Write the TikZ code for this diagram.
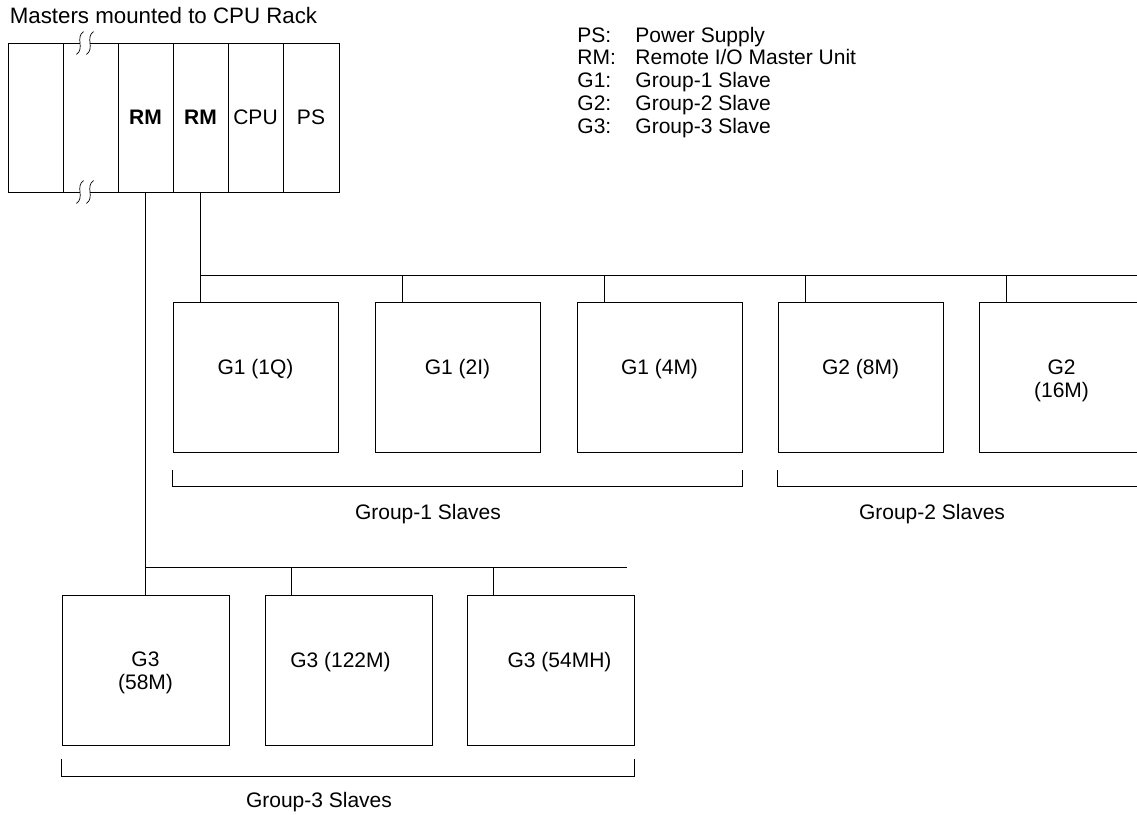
\documentclass[tikz,border=0pt]{standalone}
\usepackage{fontspec}
\setmainfont{Liberation Sans}

\tikzset{
    slot/.style={draw, minimum width=55pt, minimum height=149pt},
    slave/.style={draw, minimum width=165pt, minimum height=150pt},
    slavetext/.style={anchor=base, align=center},
    breakmark/.style={line width=0.7pt},
}

\begin{document}
\begin{tikzpicture}[x=1pt, y=-1pt, line width=0.9pt, inner sep=0pt,
        font=\fontsize{21pt}{23pt}\selectfont]
                \useasboundingbox (0,0) rectangle (1137,814);
                \clip (0,0) rectangle (1137,814);

                \node[anchor=base, font=\fontsize{22.3pt}{24pt}\selectfont] (title) at (163.5,23) {Masters mounted to CPU Rack};

                % rack
                \node[slot] (s1) at (35.5,117.5) {};
                \node[slot] (s2) at (90.5,117.5) {};
                \node[slot] (rm1) at (145.5,117.5) {\textbf{RM}};
                \node[slot] (rm2) at (200.5,117.5) {\textbf{RM}};
                \node[slot] (cpu) at (255.5,117.5) {CPU};
                \node[slot, minimum width=56pt] (ps) at (311,117.5) {PS};

                \fill[white] (80,40) rectangle (90,46);
                \fill[white] (80,189) rectangle (90,195);
                \foreach \bx in {80,90}
                    \foreach \by in {43,192}
                        \draw[breakmark] (\bx+3.5,\by-11.5) .. controls (\bx-5,\by-5) and (\bx+5,\by+5) .. (\bx-3.5,\by+11.5);

                % legend
                \node[anchor=base west] (kps) at (577,42) {PS:};
                \node[anchor=base west] (krm) at (577,64.8) {RM:};
                \node[anchor=base west] (kg1) at (577,87.6) {G1:};
                \node[anchor=base west] (kg2) at (577,110.4) {G2:};
                \node[anchor=base west] (kg3) at (577,133.2) {G3:};
                \node[anchor=base west] (dps) at (635,42) {Power Supply};
                \node[anchor=base west] (drm) at (635,64.8) {Remote I/O Master Unit};
                \node[anchor=base west] (dg1) at (635,87.6) {Group-1 Slave};
                \node[anchor=base west] (dg2) at (635,110.4) {Group-2 Slave};
                \node[anchor=base west] (dg3) at (635,133.2) {Group-3 Slave};

                % group-1 and group-2 slaves
                \node[slave] (g1q) at (255.5,377) {};
                \node[slave] (g2i) at (457.5,377) {};
                \node[slave] (g4m) at (659.5,377) {};
                \node[slave] (g8m) at (860.5,377) {};
                \node[slave] (g16m) at (1061.5,377) {};
                \node[slavetext] (t1q) at ([yshift=3pt]g1q.center) {G1 (1Q)};
                \node[slavetext] (t2i) at ([yshift=3pt]g2i.center) {G1 (2I)};
                \node[slavetext] (t4m) at ([yshift=3pt]g4m.center) {G1 (4M)};
                \node[slavetext] (t8m) at ([yshift=3pt]g8m.center) {G2 (8M)};
                \node[slavetext] (t16m) at ([yshift=-20pt]g16m.center) {G2\\(16M)};

                % group-3 slaves
                \node[slave, minimum width=167pt] (g58m) at (145.5,670) {};
                \node[slave, minimum width=167pt] (g122m) at (348.5,670) {};
                \node[slave, minimum width=167pt] (g54mh) at (550.5,670) {};
                \node[slavetext] (t58m) at ([yshift=-19pt]g58m.center) {G3\\(58M)};
                \node[slavetext] (t122m) at ([xshift=-8pt,yshift=3pt]g122m.center) {G3 (122M)};
                \node[slavetext] (t54mh) at ([xshift=9pt,yshift=3pt]g54mh.center) {G3 (54MH)};

                % buses
                \coordinate (bus1) at (200.5,275);
                \coordinate (bus1end) at (1140,275);
                \coordinate (bus3) at (145.5,567);
                \coordinate (bus3end) at (627,567);

                \draw (rm2.south) -- (bus1) -- (bus1end);
                \foreach \s in {g1q,g2i,g4m,g8m,g16m}
                    \draw ([xshift=28pt]\s.north west) -- ++(0,-27);

                \draw (rm1.south) -- (g58m.north);
                \draw (bus3) -- (bus3end);
                \foreach \s in {g122m,g54mh}
                    \draw ([xshift=27pt]\s.north west) -- ++(0,-28);

                % brackets
                \draw ([yshift=-18pt]g1q.south west) -- ++(0,16) -| ([yshift=-18pt]g4m.south east);
                \draw ([yshift=-18pt]g8m.south west) -- ++(0,16) -- ++(380,0);
                \draw ([yshift=-14pt]g58m.south west) -- ++(0,17) -| ([yshift=-14pt]g54mh.south east);

                \node[anchor=base] (grp1) at (428,519.5) {Group-1 Slaves};
                \node[anchor=base] (grp2) at (932,519.5) {Group-2 Slaves};
                \node[anchor=base] (grp3) at (319,807.5) {Group-3 Slaves};
            \end{tikzpicture}
\end{document}
